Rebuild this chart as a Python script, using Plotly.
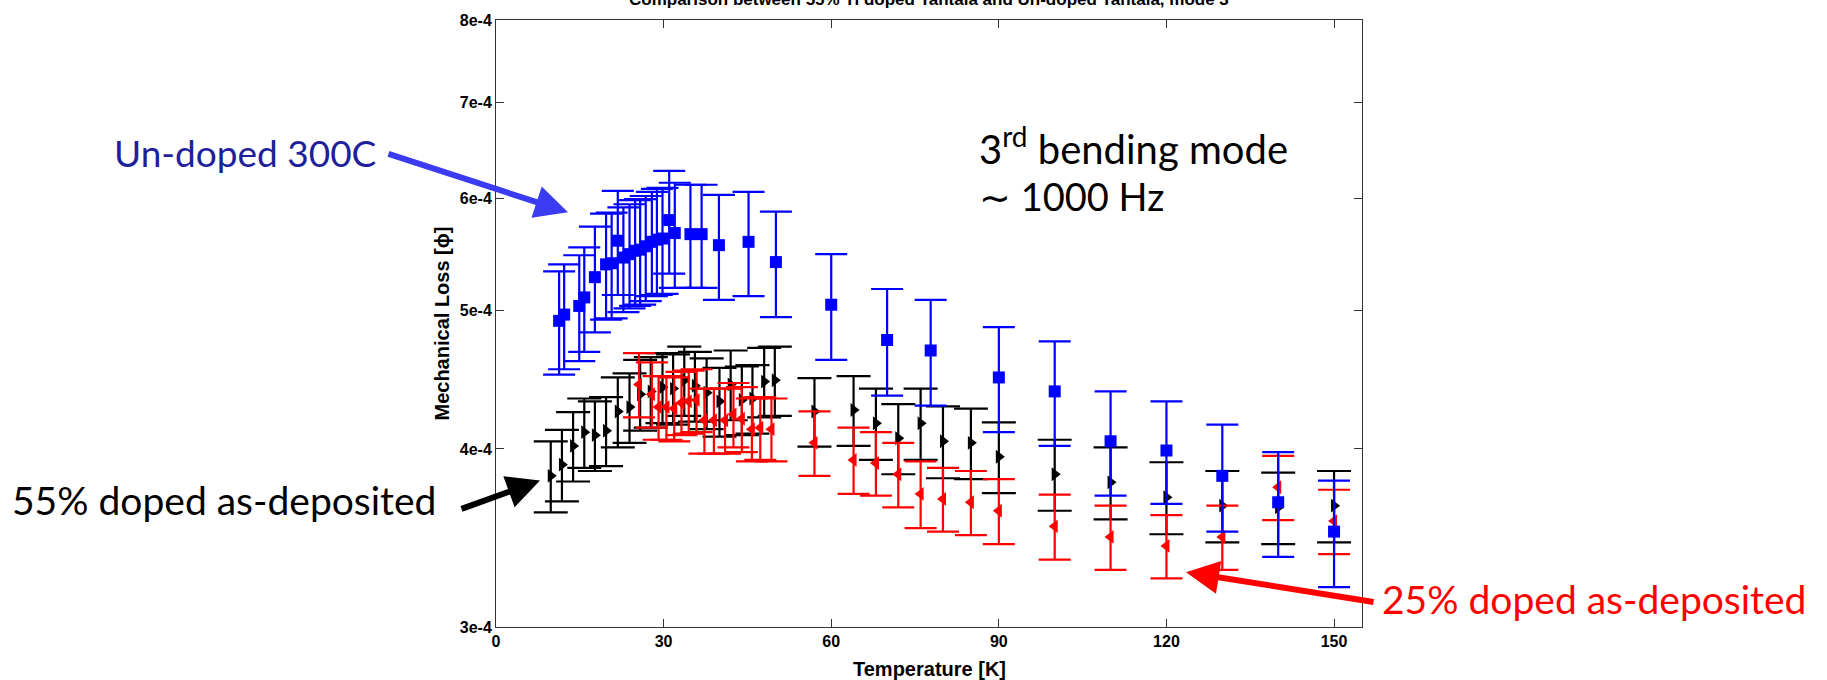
import plotly.graph_objects as go

# ---------------- data ----------------
blue_T = [11.3, 12.2, 14.9, 15.8, 17.7, 19.7, 20.7, 21.8, 22.8, 23.9, 24.9, 25.8, 26.8,
          27.9, 28.8, 29.8, 31.0, 32.0, 34.8, 36.8, 39.9, 45.2, 50.1,
          60, 70, 77.8, 90, 100, 110, 120, 130, 140, 150]
blue_loss = [4.92e-4, 4.97e-4, 5.04e-4, 5.11e-4, 5.28e-4, 5.39e-4, 5.40e-4, 5.60e-4, 5.45e-4,
             5.48e-4, 5.51e-4, 5.52e-4, 5.55e-4, 5.59e-4, 5.61e-4, 5.62e-4, 5.79e-4, 5.67e-4,
             5.66e-4, 5.66e-4, 5.56e-4, 5.59e-4, 5.41e-4,
             5.05e-4, 4.77e-4, 4.69e-4, 4.49e-4, 4.39e-4, 4.05e-4, 3.99e-4, 3.83e-4, 3.67e-4, 3.50e-4]
blue_err = [0.41e-4, 0.42e-4, 0.43e-4, 0.43e-4, 0.45e-4, 0.46e-4, 0.46e-4, 0.47e-4, 0.46e-4,
            0.46e-4, 0.47e-4, 0.47e-4, 0.47e-4, 0.47e-4, 0.48e-4, 0.48e-4, 0.48e-4, 0.48e-4,
            0.47e-4, 0.47e-4, 0.47e-4, 0.47e-4, 0.46e-4,
            0.43e-4, 0.41e-4, 0.40e-4, 0.38e-4, 0.37e-4, 0.34e-4, 0.33e-4, 0.33e-4, 0.31e-4, 0.30e-4]

black_T = [9.8, 11.8, 13.8, 15.8, 17.7, 19.7, 21.8, 23.9, 25.8, 27.7, 29.8, 31.7, 33.7, 35.6,
           37.7, 40.0, 42.0, 44.0, 45.9, 48.0, 49.9,
           57, 64, 68, 72, 76, 80, 85, 90, 100, 110, 120, 130, 140, 150]
black_loss = [3.83e-4, 3.90e-4, 4.02e-4, 4.11e-4, 4.09e-4, 4.12e-4, 4.25e-4, 4.28e-4, 4.37e-4,
              4.39e-4, 4.42e-4, 4.41e-4, 4.47e-4, 4.43e-4, 4.38e-4, 4.32e-4, 4.44e-4, 4.33e-4,
              4.34e-4, 4.46e-4, 4.47e-4,
              4.25e-4, 4.26e-4, 4.17e-4, 4.07e-4, 4.17e-4, 4.05e-4, 4.04e-4, 3.95e-4, 3.84e-4,
              3.79e-4, 3.70e-4, 3.65e-4, 3.64e-4, 3.65e-4]
black_err = [0.22e-4, 0.225e-4, 0.225e-4, 0.23e-4, 0.23e-4, 0.23e-4, 0.24e-4, 0.24e-4, 0.25e-4,
             0.25e-4, 0.25e-4, 0.25e-4, 0.25e-4, 0.25e-4, 0.25e-4, 0.24e-4, 0.25e-4, 0.24e-4,
             0.24e-4, 0.25e-4, 0.25e-4,
             0.235e-4, 0.24e-4, 0.24e-4, 0.23e-4, 0.24e-4, 0.235e-4, 0.23e-4, 0.225e-4, 0.22e-4,
             0.22e-4, 0.215e-4, 0.21e-4, 0.21e-4, 0.21e-4]

red_T = [25.6, 27.9, 29.1, 30.5, 31.9, 33.2, 34.5, 35.9, 37.3, 39.0, 41.0, 42.5, 44.0, 45.8,
         47.3, 49.3,
         57, 64, 68, 72, 76, 80, 85, 90, 100, 110, 120, 130, 140, 150]
red_loss = [4.44e-4, 4.37e-4, 4.28e-4, 4.28e-4, 4.27e-4, 4.31e-4, 4.32e-4, 4.33e-4, 4.19e-4,
            4.19e-4, 4.19e-4, 4.23e-4, 4.20e-4, 4.13e-4, 4.14e-4, 4.13e-4,
            4.04e-4, 3.93e-4, 3.91e-4, 3.84e-4, 3.72e-4, 3.69e-4, 3.67e-4, 3.62e-4, 3.53e-4,
            3.47e-4, 3.42e-4, 3.47e-4, 3.76e-4, 3.56e-4]
red_err = [0.23e-4, 0.23e-4, 0.22e-4, 0.22e-4, 0.22e-4, 0.22e-4, 0.22e-4, 0.22e-4, 0.22e-4,
           0.22e-4, 0.22e-4, 0.22e-4, 0.22e-4, 0.21e-4, 0.21e-4, 0.21e-4,
           0.21e-4, 0.21e-4, 0.20e-4, 0.20e-4, 0.20e-4, 0.19e-4, 0.19e-4, 0.19e-4, 0.185e-4,
           0.18e-4, 0.175e-4, 0.18e-4, 0.195e-4, 0.185e-4]

y_ticks = [3e-4, 4e-4, 5e-4, 6e-4, 7e-4, 8e-4]
y_ticktext = ["3e-4", "4e-4", "5e-4", "6e-4", "7e-4", "8e-4"]
x_ticks = [0, 30, 60, 90, 120, 150]

# ---------------- layout geometry (pixels) ----------------
W, H = 1827, 680
L, R, T, B = 496, 1362, 18, 627


def pxx(p):
    return (p - L) / (R - L)


def pxy(p):
    return (B - p) / (B - T)


fig = go.Figure()

series = [
    (black_T, black_loss, black_err, "black", "triangle-right", 12, 17),
    (red_T, red_loss, red_err, "red", "triangle-left", 12, 16),
    (blue_T, blue_loss, blue_err, "blue", "square", 12, 16),
]
for xs, ys, es, col, sym, msize, cw in series:
    fig.add_trace(go.Scatter(
        x=xs, y=ys, mode="markers",
        marker=dict(color=col, symbol=sym, size=msize, line=dict(width=0)),
        error_y=dict(type="data", array=es, visible=True, color=col, thickness=2.2, width=cw),
        showlegend=False,
    ))

narrow = "Liberation Sans Narrow, Liberation Sans, Arial"
tick_font = dict(family=narrow, size=16, color="black", weight="bold")

fig.update_layout(
    width=W, height=H,
    margin=dict(l=L, r=W - R, t=T, b=H - B),
    paper_bgcolor="white", plot_bgcolor="white",
    xaxis=dict(range=[0, 155], tickvals=x_ticks, ticks="inside", ticklen=8, tickwidth=1,
               tickcolor="#333", showline=True, linecolor="#333", linewidth=1, mirror="ticks",
               showgrid=False, zeroline=False, tickfont=tick_font),
    yaxis=dict(type="log", range=[-3.522878745, -3.096910013], tickvals=y_ticks, ticktext=y_ticktext,
               ticks="inside", ticklen=8, tickwidth=1, tickcolor="#333", showline=True,
               linecolor="#333", linewidth=1, mirror="ticks", showgrid=False, zeroline=False,
               tickfont=tick_font),
)

ann = []
label_font = dict(family=narrow, size=20, color="black", weight="bold")
ann.append(dict(text="Temperature [K]", xref="paper", yref="paper", x=0.5, y=pxy(669),
                showarrow=False, font=label_font, xanchor="center", yanchor="middle"))
ann.append(dict(text="Mechanical Loss [ϕ]", xref="paper", yref="paper", x=pxx(441), y=0.5,
                showarrow=False, font=label_font, textangle=-90, xanchor="center", yanchor="middle"))
ann.append(dict(text="Comparison between 55% Ti doped Tantala and Un-doped Tantala, mode 3",
                xref="paper", yref="paper", x=0.5, y=pxy(-3), showarrow=False,
                font=dict(family=narrow, size=17, color="black", weight="bold"),
                xanchor="center", yanchor="middle"))

big = "Lato, Carlito, Open Sans, sans-serif"
bs = 39
ann.append(dict(text="Un-doped 300C", xref="paper", yref="paper", x=pxx(112), y=pxy(151),
                showarrow=False, font=dict(family=big, size=37, color="#1f1f9c"),
                xanchor="left", yanchor="middle"))
ann.append(dict(text="3<sup>rd</sup> bending mode", xref="paper", yref="paper", x=pxx(977), y=pxy(144),
                showarrow=False, font=dict(family=big, size=40, color="black"),
                xanchor="left", yanchor="middle"))
ann.append(dict(text="∼ 1000 Hz", xref="paper", yref="paper", x=pxx(977), y=pxy(195),
                showarrow=False, font=dict(family=big, size=38, color="black"),
                xanchor="left", yanchor="middle"))
ann.append(dict(text="55% doped as-deposited", xref="paper", yref="paper", x=pxx(10), y=pxy(500),
                showarrow=False, font=dict(family=big, size=bs, color="black"),
                xanchor="left", yanchor="middle"))
ann.append(dict(text="25% doped as-deposited", xref="paper", yref="paper", x=pxx(1380), y=pxy(599),
                showarrow=False, font=dict(family=big, size=bs, color="red"),
                xanchor="left", yanchor="middle"))

# arrows (head position, tail offset in pixels)
def arrow(hx, hy, tx, ty, col, w):
    return dict(text="", xref="paper", yref="paper", x=pxx(hx), y=pxy(hy),
                ax=tx - hx, ay=ty - hy, axref="pixel", ayref="pixel",
                showarrow=True, arrowhead=2, arrowsize=1.1, arrowwidth=w, arrowcolor=col)

ann.append(arrow(568, 211, 387, 152, "#3b3bf2", 6))
ann.append(arrow(540, 480, 460, 509, "black", 6))
ann.append(arrow(1186, 572, 1375, 602, "red", 6))

fig.update_layout(annotations=ann)
fig.write_html("out.html")
